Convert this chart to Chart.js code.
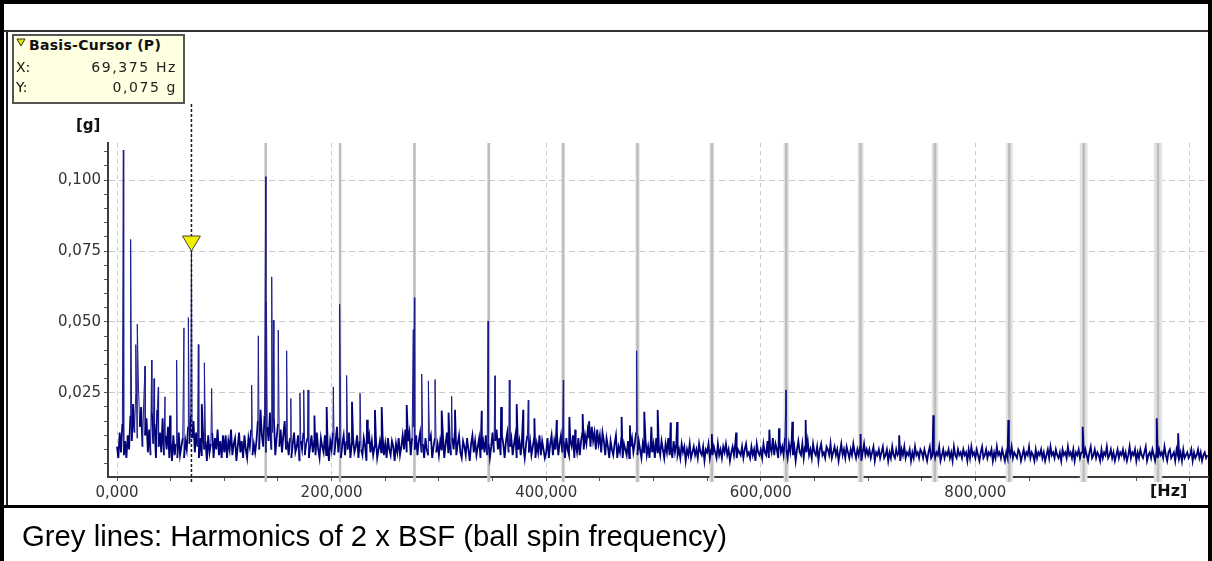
<!DOCTYPE html>
<html>
<head>
<meta charset="utf-8">
<title>Spectrum – harmonics of 2 x BSF</title>
<script src="https://cdn.jsdelivr.net/npm/chart.js@4.4.0/dist/chart.umd.min.js"></script>
<style>
  html, body { margin: 0; padding: 0; background: #fff; }
  #page { position: relative; width: 1212px; height: 561px; overflow: hidden; background: #fff; font-family: "DejaVu Sans", sans-serif; }
  #frame { position: absolute; left: 0; top: 0; width: 1212px; height: 561px; box-sizing: border-box; border: 4px solid #000; border-bottom: none; }
  #titleRule { position: absolute; left: 4px; top: 30px; width: 1204px; height: 2px; background: #333; }
  #innerLeft { position: absolute; left: 6px; top: 32px; width: 2px; height: 473px; background: #222; }
  #panelRule { position: absolute; left: 0; top: 505px; width: 1212px; height: 3px; background: #000; }
  #chartWrap { position: absolute; left: 0; top: 0; width: 1212px; height: 561px; }
  .lbl { position: absolute; white-space: nowrap; color: #111; }
  #cursorBox { position: absolute; left: 12px; top: 34px; width: 173px; height: 70px; box-sizing: border-box;
               border: 2px solid #555; background: #ffffe1; }
  #caption { position: absolute; left: 22px; top: 519px; font: 29.3px "Liberation Sans", Arial, sans-serif; line-height: 33px; color: #000; white-space: nowrap; }
</style>
</head>
<body>
<div id="page">
  <div id="frame"></div>
  <div id="titleRule"></div>
  <div id="innerLeft"></div>
  <div id="panelRule"></div>
  <div id="chartWrap"><canvas id="chart"></canvas></div>

  <div id="cursorBox"></div>
  <svg class="lbl" style="left:16px;top:38px" width="10" height="9"><polygon points="1,1 9,1 5,8" fill="#e6e600" stroke="#333" stroke-width="1"/></svg>
  <div class="lbl" style="left:29px;top:37px;font-weight:bold;font-size:14px;line-height:16px;letter-spacing:0.3px">Basis-Cursor (P)</div>
  <div class="lbl" style="left:16px;top:59px;font-size:14px;line-height:16px">X:</div>
  <div class="lbl" style="right:1035px;top:59px;font-size:14px;line-height:16px;letter-spacing:1.6px;color:#222">69,375 Hz</div>
  <div class="lbl" style="left:16px;top:79px;font-size:14px;line-height:16px">Y:</div>
  <div class="lbl" style="right:1035px;top:79px;font-size:14px;line-height:16px;letter-spacing:1.6px;color:#222">0,075 g</div>

  <div class="lbl" style="left:76px;top:117px;font-weight:bold;font-size:15px;line-height:17px">[g]</div>
  <div class="lbl" style="left:1150px;top:482px;font-weight:bold;font-size:16px;line-height:18px">[Hz]</div>

  <div id="caption">Grey lines: Harmonics of 2 x BSF (ball spin frequency)</div>
</div>

<script>
// Spectrum bins, 1.25 Hz apart, amplitudes in mg
const binHz = 1.25;
const noise000 = [6,2,11,4,14,3,8,2, 10,5,17,8,21,11,25,9,27,13,20,6,23,10,16,4,
  12,3,18,7,14,2,19,6,11,4,16,3,10,5,13,2, 8,1,10,3,7,2,11,3,6,9,2,8, 5,13,7,17,9,15,4,11,
  6,2,9,3,12,5,8,1,10,4,7,11,2,9,5,12,3,8,2,10];
const noise100 = [4,10,2,8,5,12,3,7,9,1,6,11,4,8,2,10,5,2,9,6,12,3,7,4,
  8,15,5,19,10,6,17,4,13,8,18,5,11,16,3,9,14,6,12,4,10,15,5,8,
  3,9,2,7,11,4,6,10,1,8,5,11,3,7,9,2,6,10,4,8,3,11,5,2,9,6,4,10,3,7,1,8];
const noise200 = [5,11,3,8,13,4,9,2,7,10, 3,8,5,11,2,7,9,4,6,10, 2,8,5,3,9,6,1,7,10,4,
  8,3,6,9,2,5,8,4,10,3, 7,2,9,5,3,8,6,1,7,4, 9,3,6,10,5,12,4,8,11,3,
  9,13,5,10,3,8,11,4,7,2, 9,5,3,8,10,2,6,9,4,7];
const noise300 = [3,8,5,10,2,7,11,4,8,3, 9,5,12,3,7,10,4,2,8,6, 3,9,5,1,7,10,4,8,3,6,
  9,2,5,8,4,10,3,7,2,6, 11,4,8,12,5,9,3,10,7,2, 8,11,4,6,9,3,7,10,2,5,
  8,3,9,6,2,7,10,4,8,3, 6,9,2,7,4,10,3,8,5,2];
const noise400 = [4,9,2,7,10,3,8,5,11,3, 7,10,4,8,2,9,5,3,8,6, 10,2,7,4,9,3,8,11,5,10,
  7,12,9,6,13,8,11,5,12,7, 10,4,11,8,3,9,6,2,8,5, 3,7,10,2,6,4,9,2,7,5,
  3,8,2,6,9,4,7,11,3,8, 5,2,7,4,9,3,6,2,8,4];
const noise500 = [7,2,9,4,6,3,8,5,2,7, 4,9,3,6,2,8,4,7,3,5, 2,7,4,6,1,5,3,7,2,4,
  6,3,5,2,7,4,3,6,1,5, 4,7,2,5,3,6,4,2,7,3, 5,2,6,4,7,3,5,1,4,6,
  3,7,2,5,4,3,6,2,5,7, 3,4,2,6,3,5,1,7,4,3];
const noise600 = [5,2,7,4,3,8,2,6,4,9, 3,7,5,2,8,4,6,3,9,5, 2,7,4,8,3,6,1,5,8,4,
  3,7,2,6,4,8,3,5,2,7, 4,3,6,1,5,7,3,4,2,6, 5,3,7,2,4,6,3,5,1,4,
  7,3,5,2,6,4,2,5,3,7, 4,2,5,3,6,1,4,7,3,5];
const noise700 = [3,5,2,4,6,1,4,3,5,2, 4,6,2,3,5,1,4,2,6,3, 2,5,3,4,1,5,3,6,2,4,
  3,5,1,4,2,6,3,4,2,5, 4,2,5,3,1,4,6,2,3,5, 2,4,3,6,1,3,5,2,4,3,
  5,2,4,1,6,3,2,5,3,4, 2,5,3,4,1,5,2,6,3,4];
const noise800 = [2,5,3,1,4,6,2,3,5,2, 4,3,5,1,4,2,6,3,4,2, 5,3,1,4,2,5,3,6,2,4,
  3,2,5,4,1,3,5,2,4,3, 6,2,4,3,1,5,2,4,3,5, 2,4,1,3,5,2,6,3,4,2,
  5,3,2,4,1,5,3,4,2,6, 3,4,2,5,1,4,3,5,2,4];
const noise900 = [4,2,5,3,1,4,6,2,3,5, 2,4,3,1,5,2,4,3,6,2, 3,5,2,4,1,3,5,2,4,3,
  5,2,4,1,3,6,2,4,3,5, 1,4,2,5,3,2,4,6,1,3, 4,2,5,3,1,4,2,5,3,4,
  2,6,3,1,4,5,2,3,4,1, 5,3,2,4,1,5,2,3,4,2];
const noise1000 = [3,5,1,4,2,3,5,2,4,1,3,4,2,3];

// Discrete spectral lines (Hz, g)
const peakHz = [5.9, 12.7, 17.5, 18.9, 26.1, 32.3, 34.5, 38.5, 44.7, 49.4,
  55.6, 62.4, 66.5, 69.4, 75.8, 79.0, 81.4, 88.2, 125.5, 131.7,
  138.6, 139.3, 144.2, 145.7, 150.3, 158.1, 162.0, 170.5, 174.0, 178.0,
  184.0, 195.4, 201.6, 207.5, 214.0, 219.0, 226.5, 233.0, 240.4, 246.7,
  270.0, 276.2, 277.2, 284.0, 290.2, 296.4, 302.6, 309.0, 311.9, 315.0,
  339.9, 345.8, 352.3, 358.0, 365.6, 372.5, 378.6, 383.3, 389.0, 409.8,
  416.0, 421.6, 427.0, 434.0, 440.0, 470.3, 478.0, 484.3, 491.4, 498.0,
  503.9, 516.0, 522.0, 554.4, 577.0, 608.0, 617.0, 623.5, 629.4, 641.8,
  693.0, 729.0, 760.8, 830.7, 900.0, 969.0, 989.0];
const peakG = [0.1106, 0.0791, 0.042, 0.0492, 0.0344, 0.0365, 0.030, 0.027, 0.0236, 0.017,
  0.0365, 0.0479, 0.0515, 0.0752, 0.042, 0.021, 0.0356, 0.0265, 0.0277, 0.0451,
  0.1012, 0.057, 0.0659, 0.0506, 0.0471, 0.0398, 0.023, 0.0249, 0.026, 0.026,
  0.017, 0.020, 0.0271, 0.0562, 0.0311, 0.0218, 0.0248, 0.0155, 0.0189, 0.020,
  0.0207, 0.0473, 0.0585, 0.0316, 0.0292, 0.0297, 0.0187, 0.018, 0.0238, 0.019,
  0.0187, 0.0503, 0.031, 0.020, 0.0295, 0.021, 0.019, 0.0224, 0.016, 0.0154,
  0.0295, 0.0165, 0.012, 0.0175, 0.015, 0.0165, 0.0135, 0.0398, 0.0183, 0.013,
  0.0189, 0.0145, 0.0147, 0.0105, 0.011, 0.012, 0.0125, 0.026, 0.0148, 0.0154,
  0.0105, 0.010, 0.0171, 0.0154, 0.013, 0.016, 0.0107];

// Grey lines: harmonics of 2 x BSF
const harmonicHz = [138.6, 207.9, 277.2, 346.5, 415.8, 485.1, 554.4, 623.7, 693.0, 762.3, 831.6, 900.9, 970.2];

const cursorHz = 69.375;
const cursorG = 0.075;

// Axes
const xMin = -8.4, xMax = 1016.8;
const yMin = -0.0047, yMax = 0.1131;
const xTickValues = [0, 50, 100, 150, 200, 250, 300, 350, 400, 450, 500, 550, 600, 650, 700, 750, 800, 850, 900, 950, 1000];
const xGridValues = [0, 200, 400, 600, 800, 1000];
const xLabelValues = [0, 200, 400, 600, 800];
const xTickLabels = ['0,000', '200,000', '400,000', '600,000', '800,000'];
const yTickValues = [0, 0.005, 0.01, 0.015, 0.02, 0.025, 0.03, 0.035, 0.04, 0.045, 0.05, 0.055,
  0.06, 0.065, 0.07, 0.075, 0.08, 0.085, 0.09, 0.095, 0.1, 0.105, 0.11];
const yLabelValues = [0.025, 0.05, 0.075, 0.1];
const yTickLabels = ['0,025', '0,050', '0,075', '0,100'];

const noiseSegments = [noise000, noise100, noise200, noise300, noise400, noise500,
  noise600, noise700, noise800, noise900, noise1000];

const points = [];
let bin = 0;
for (const seg of noiseSegments) {
  for (const mg of seg) {
    points.push({ x: bin * binHz, y: mg / 1000 });
    bin++;
  }
}
peakHz.forEach((f, i) => points.push({ x: f, y: peakG[i] }));
points.sort((a, b) => a.x - b.x);

const tickFont = { family: 'DejaVu Sans', size: 15 };

// tall spectral lines are thin, the noise floor is drawn heavier (dense band look)
const isSpike = (c) => Math.max(c.p0.parsed.y, c.p1.parsed.y) > 0.022;

const overlayPlugin = {
  id: 'harmonicsAndCursor',
  beforeDatasetsDraw(chart) {
    const { ctx, chartArea, scales } = chart;
    const top = chartArea.top;
    const h = chartArea.bottom + 5 - top;
    ctx.save();
    for (const f of harmonicHz) {
      const px = scales.x.getPixelForValue(f);
      // tolerance band widens with order
      const half = scales.x.getPixelForValue(f * 1.004) - px;
      ctx.fillStyle = '#e3e3e3';
      ctx.fillRect(px - half, top, half * 2, h);
      ctx.fillStyle = '#bdbdbd';
      ctx.fillRect(px - 1.25, top, 2.5, h);
    }
    ctx.restore();
  },
  afterDatasetsDraw(chart) {
    const { ctx, chartArea, scales } = chart;
    const cx = scales.x.getPixelForValue(cursorHz);
    const cy = scales.y.getPixelForValue(cursorG);
    ctx.save();
    ctx.strokeStyle = '#1a1a1a';
    ctx.lineWidth = 1.5;
    ctx.setLineDash([3, 2]);
    ctx.beginPath();
    ctx.moveTo(cx, 104);
    ctx.lineTo(cx, chartArea.bottom + 5);
    ctx.stroke();
    ctx.setLineDash([]);
    ctx.beginPath();
    ctx.moveTo(cx - 9, cy - 15);
    ctx.lineTo(cx + 9, cy - 15);
    ctx.lineTo(cx, cy);
    ctx.closePath();
    ctx.fillStyle = '#f0f000';
    ctx.fill();
    ctx.lineWidth = 1;
    ctx.strokeStyle = '#444';
    ctx.stroke();
    ctx.restore();
  },
};

new Chart(document.getElementById('chart'), {
  type: 'line',
  data: {
    datasets: [{
      data: points,
      borderColor: '#000078',
      borderWidth: 1.8,
      pointRadius: 0,
      tension: 0,
      fill: false,
      segment: {
        borderWidth: (c) => (isSpike(c) ? 1 : 1.8),
        borderColor: (c) => (isSpike(c) ? '#1c1c8c' : '#000078'),
      },
    }],
  },
  options: {
    responsive: true,
    maintainAspectRatio: false,
    animation: false,
    devicePixelRatio: 1,
    events: [],
    layout: { padding: { left: 48, top: 143, right: 4, bottom: 54 } },
    plugins: { legend: { display: false }, tooltip: { enabled: false } },
    scales: {
      x: {
        type: 'linear',
        min: xMin,
        max: xMax,
        afterBuildTicks: (s) => { s.ticks = xTickValues.map((v) => ({ value: v })); },
        afterFit: (s) => { s.height = 30; },
        ticks: {
          autoSkip: false,
          maxRotation: 0,
          minRotation: 0,
          padding: 3,
          color: '#333',
          font: tickFont,
          callback: (v) => {
            const i = xLabelValues.indexOf(v);
            return i >= 0 ? xTickLabels[i] : '';
          },
        },
        grid: {
          color: (c) => (c.tick && xGridValues.includes(c.tick.value) ? '#c8c8c8' : 'rgba(0,0,0,0)'),
          tickColor: '#555',
          tickLength: 4,
          lineWidth: 1,
        },
        border: { color: '#3c3c3c', width: 2, dash: [4, 4] },
      },
      y: {
        type: 'linear',
        min: yMin,
        max: yMax,
        afterBuildTicks: (s) => { s.ticks = yTickValues.map((v) => ({ value: v })); },
        afterFit: (s) => { s.width = 60; },
        ticks: {
          autoSkip: false,
          padding: 3,
          color: '#333',
          font: tickFont,
          callback: (v) => {
            const i = yLabelValues.indexOf(v);
            return i >= 0 ? yTickLabels[i] : '';
          },
        },
        grid: {
          color: (c) => (c.tick && yLabelValues.includes(c.tick.value) ? '#c8c8c8' : 'rgba(0,0,0,0)'),
          tickColor: '#555',
          tickLength: 4,
          lineWidth: 1,
        },
        border: { color: '#3c3c3c', width: 2, dash: [6, 4] },
      },
    },
  },
  plugins: [overlayPlugin],
});
</script>
</body>
</html>
